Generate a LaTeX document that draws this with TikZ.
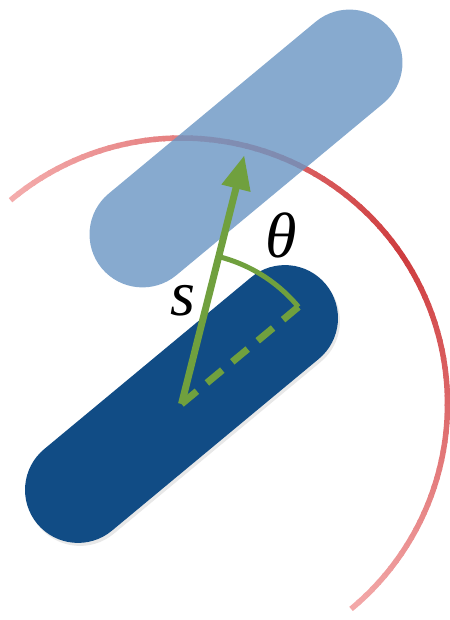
\documentclass[tikz,border=0pt]{standalone}
\usepackage{fontspec}
\newfontfamily\lserif{Liberation Serif}
\usetikzlibrary{arrows.meta,calc,shadows}
\definecolor{rodDark}{RGB}{17,76,133}
\definecolor{rodLight}{RGB}{105,149,195}
\definecolor{vecGreen}{RGB}{112,160,62}
\definecolor{arcRed}{RGB}{206,60,62}
\definecolor{arcPale}{RGB}{244,172,172}
\begin{document}
\begin{tikzpicture}[x=1pt,y=1pt,
  rod/.style={rectangle, minimum width=375pt, minimum height=106pt, rounded corners=53pt, rotate=39.7, inner sep=0pt},
  vec/.style={vecGreen, line width=7pt},
  lbl/.style={font=\lserif\itshape\fontsize{64}{70}\selectfont, inner sep=0pt}]
\useasboundingbox (0,0) rectangle (449,620);
% lower (dark) rod
\node[rod, fill=rodDark, drop shadow={opacity=0.18, shadow xshift=2pt, shadow yshift=-3pt}] (rodA) at (181.5,216) {};
% red circle arc with fading ends
\foreach \a in {130,128,...,-49} {
  \pgfmathsetmacro{\f}{\a>35 ? (130-\a)/95*100 : (\a+51)/86*100}
  \draw[line width=5.5pt, color=arcRed!\f!arcPale] ($(rodA.center)+(\a:266)$) arc[start angle=\a, end angle=\a-2.4, radius=266];
}
% upper (light) rod
\node[rod, fill=rodLight, fill opacity=0.8] (rodB) at (246,471.5) {};
% angle arc and dashed axis
\coordinate (axisEnd) at ($(rodA.center)+(39.7:152)$);
\draw[vecGreen, line width=5pt] ($(rodA.center)+(76:152)$) arc[start angle=76, end angle=39.7, radius=152];
\draw[vec, dash pattern=on 20pt off 13pt] (rodA.center) -- (axisEnd);
% displacement vector
\draw[vec, -{Triangle[length=34pt,width=28pt]}, shorten >=7pt] (rodA.center) -- (rodB.center);
% labels
\node[lbl] (theta) at (281,385) {θ};
\node[lbl] (slab) at (182.5,319) {s};
\end{tikzpicture}
\end{document}
